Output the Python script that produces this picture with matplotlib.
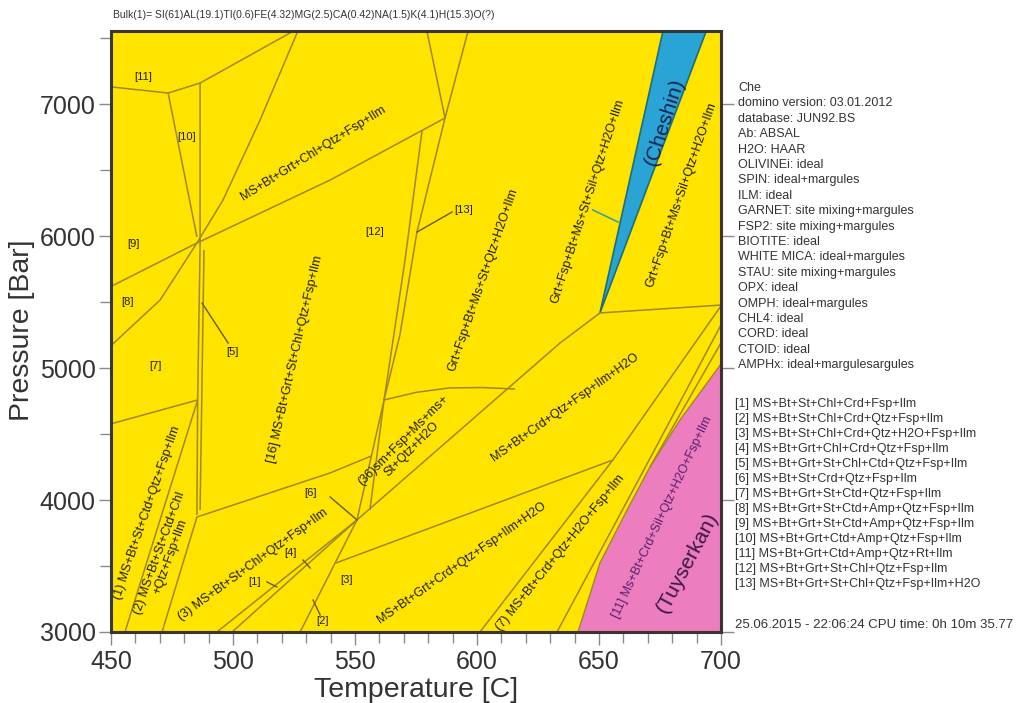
import matplotlib
matplotlib.use('Agg')
import matplotlib.pyplot as plt
from matplotlib.patches import Polygon
from matplotlib.ticker import MultipleLocator, FixedLocator

plt.rcParams['font.family'] = ['Liberation Sans', 'DejaVu Sans']

# ---------------- data ----------------
t_lim = (450, 700)
p_lim = (3000, 7550)
x_ticks = [450, 500, 550, 600, 650, 700]
y_ticks = [3000, 4000, 5000, 6000, 7000]

# phase boundaries (Temperature [C], Pressure [Bar])
b01_T = [450.0, 473.4];                      b01_P = [7130, 7083]
b02_T = [473.4, 486.5, 524.5];               b02_P = [7083, 7159, 7550]
b03_T = [473.4, 485.2];                      b03_P = [7083, 5993]
b04_T = [486.5, 486.5, 485.5, 485.2];        b04_P = [7159, 5932, 4758, 3886]
b05_T = [488.1, 486.5];                      b05_P = [5894, 3924]
b06_T = [450.0, 470.1, 485.2, 495.9, 511.1, 526.5]; b06_P = [5170, 5515, 5947, 6273, 6879, 7550]
b07_T = [450.0, 485.2, 539.8, 586.9];        b07_P = [5618, 5947, 6424, 6894]
b08_T = [450.0, 485.5];                      b08_P = [4577, 4758]
b09_T = [485.5, 455.7];                      b09_P = [4758, 3000]
b10_T = [485.2, 470.9];                      b10_P = [3871, 3000]
b11_T = [485.2, 539.8, 556.6];               b11_P = [3871, 4205, 4333]
b12_T = [586.9, 575.4, 568.4, 561.9, 550.8, 527.5]; b12_P = [6894, 6030, 5250, 4758, 3849, 3000]
b13_T = [577.5, 570.5, 565.6, 561.9, 556.1]; b13_P = [6800, 5818, 5212, 4758, 3924]
b14_T = [579.5, 586.9];                      b14_P = [7550, 6894]
b15_T = [596.3, 586.9];                      b15_P = [7550, 6894]
b16_T = [561.9, 575.0, 588.5, 602.0, 615.6]; b16_P = [4758, 4815, 4849, 4852, 4841]
b17_T = [493.4, 550.8, 634.0, 650.4];        b17_P = [3000, 3849, 5189, 5417]
b18_T = [499.6, 550.8];                      b18_P = [3000, 3849]
b19_T = [542.2, 655.7];                      b19_P = [3523, 4303]
b20_T = [650.4, 700.0];                      b20_P = [5417, 5477]
b21_T = [700.0, 655.7, 601.2];               b21_P = [5470, 4303, 3000]
b22_T = [700.0, 672.1, 632.8];               b22_P = [5326, 4356, 3000]
b23_T = [700.0, 670.9];                      b23_P = [5190, 4250]

# highlighted fields
tuyserkan_T = [641.4, 650.4, 661.5, 670.9, 683.2, 700.0, 700.0]
tuyserkan_P = [3000, 3523, 3924, 4250, 4606, 5030, 3000]
cheshin_T = [676.2, 693.9, 650.4]
cheshin_P = [7550, 7550, 5417]

# label pointer segments
ptr5_T = [487.3, 498.0];   ptr5_P = [5492, 5189]
ptr13_T = [575.4, 589.8];  ptr13_P = [6030, 6182]
ptr6_T = [539.8, 550.8];   ptr6_P = [4023, 3849]
ptr4_T = [528.7, 531.6];   ptr4_P = [3545, 3485]
ptr1_T = [513.9, 518.0];   ptr1_P = [3379, 3341]
ptr2_T = [532.8, 535.7];   ptr2_P = [3242, 3129]
ptrC_T = [647.5, 657.8];   ptrC_P = [6197, 6106]

bulk_title = "Bulk(1)= SI(61)AL(19.1)TI(0.6)FE(4.32)MG(2.5)CA(0.42)NA(1.5)K(4.1)H(15.3)O(?)"
info_lines = ["Che", "domino version: 03.01.2012", "database: JUN92.BS", "Ab: ABSAL",
              "H2O: HAAR", "OLIVINEi: ideal", "SPIN: ideal+margules", "ILM: ideal",
              "GARNET: site mixing+margules", "FSP2: site mixing+margules", "BIOTITE: ideal",
              "WHITE MICA: ideal+margules", "STAU: site mixing+margules", "OPX: ideal",
              "OMPH: ideal+margules", "CHL4: ideal", "CORD: ideal", "CTOID: ideal",
              "AMPHx: ideal+margulesargules"]
legend_lines = ["[1] MS+Bt+St+Chl+Crd+Fsp+Ilm", "[2] MS+Bt+St+Chl+Crd+Qtz+Fsp+Ilm",
                "[3] MS+Bt+St+Chl+Crd+Qtz+H2O+Fsp+Ilm", "[4] MS+Bt+Grt+Chl+Crd+Qtz+Fsp+Ilm",
                "[5] MS+Bt+Grt+St+Chl+Ctd+Qtz+Fsp+Ilm", "[6] MS+Bt+St+Crd+Qtz+Fsp+Ilm",
                "[7] MS+Bt+Grt+St+Ctd+Qtz+Fsp+Ilm", "[8] MS+Bt+Grt+St+Ctd+Amp+Qtz+Fsp+Ilm",
                "[9] MS+Bt+Grt+St+Ctd+Amp+Qtz+Fsp+Ilm", "[10] MS+Bt+Grt+Ctd+Amp+Qtz+Fsp+Ilm",
                "[11] MS+Bt+Grt+Ctd+Amp+Qtz+Rt+Ilm", "[12] MS+Bt+Grt+St+Chl+Qtz+Fsp+Ilm",
                "[13] MS+Bt+Grt+St+Chl+Qtz+Fsp+Ilm+H2O"]
footer = "25.06.2015 - 22:06:24 CPU time: 0h 10m 35.77"

# ---------------- drawing ----------------
YEL = '#FFE400'
LINE = '#A08729'
TXT = '#1f1f1a'

fig = plt.figure(figsize=(10.16, 7.03), dpi=100)
ax = fig.add_axes([0.1093, 0.1010, 0.6003, 0.8543])
ax.set_facecolor(YEL)
ax.set_xlim(*t_lim)
ax.set_ylim(*p_lim)

ax.add_patch(Polygon(list(zip(tuyserkan_T, tuyserkan_P)), closed=True,
                     facecolor='#EC7DBE', edgecolor=LINE, lw=1.0, zorder=1))
ax.add_patch(Polygon(list(zip(cheshin_T, cheshin_P)), closed=True,
                     facecolor='#2AA4D5', edgecolor='#1f6d7a', lw=1.2, zorder=1))

bounds = [(b01_T, b01_P), (b02_T, b02_P), (b03_T, b03_P), (b04_T, b04_P), (b05_T, b05_P),
          (b06_T, b06_P), (b07_T, b07_P), (b08_T, b08_P), (b09_T, b09_P), (b10_T, b10_P),
          (b11_T, b11_P), (b12_T, b12_P), (b13_T, b13_P), (b14_T, b14_P), (b15_T, b15_P),
          (b16_T, b16_P), (b17_T, b17_P), (b18_T, b18_P), (b19_T, b19_P), (b20_T, b20_P),
          (b21_T, b21_P), (b22_T, b22_P), (b23_T, b23_P)]
for tt, pp in bounds:
    ax.plot(tt, pp, color=LINE, lw=1.1, zorder=2, solid_capstyle='butt')

for tt, pp in [(ptr5_T, ptr5_P), (ptr13_T, ptr13_P), (ptr6_T, ptr6_P), (ptr4_T, ptr4_P),
               (ptr1_T, ptr1_P), (ptr2_T, ptr2_P)]:
    ax.plot(tt, pp, color='#6b5a20', lw=1.0, zorder=2)
ax.plot(ptrC_T, ptrC_P, color='#3aa39a', lw=1.2, zorder=2)

# small field numbers
small = [("[11]", 463.1, 7205), ("[10]", 481.1, 6750), ("[9]", 459.0, 5939), ("[8]", 456.6, 5500),
         ("[7]", 468.0, 5015), ("[5]", 499.6, 5121), ("[12]", 558.2, 6030), ("[13]", 594.5, 6197),
         ("[6]", 531.6, 4053), ("[4]", 523.4, 3598), ("[1]", 509.0, 3379), ("[3]", 546.7, 3394),
         ("[2]", 536.5, 3083)]
for s, tx, py in small:
    ax.text(tx, py, s, fontsize=8, color=TXT, ha='center', va='center', zorder=3)

rot = [("MS+Bt+Grt+Chl+Qtz+Fsp+Ilm", 532.8, 6629, 32, 9, TXT),
       ("[16] MS+Bt+Grt+St+Chl+Qtz+Fsp+Ilm", 525.4, 5068, 77, 9, TXT),
       ("Grt+Fsp+Bt+Ms+St+Qtz+H2O+Ilm", 602.5, 5667, 71, 9, TXT),
       ("Grt+Fsp+Bt+Ms+St+Sil+Qtz+H2O+Ilm", 645.5, 6265, 72, 9, TXT),
       ("Grt+Fsp+Bt+Ms+Sil+Qtz+H2O+Ilm", 684.0, 6311, 71, 9, TXT),
       ("(36)sm+Fsp+Ms+ms+\nSt+Qtz+H2O", 571.5, 4420, 45, 9, TXT),
       ("MS+Bt+Crd+Qtz+Fsp+Ilm+H2O", 636.1, 4705, 35.5, 9, TXT),
       ("MS+Bt+Grt+Crd+Qtz+Fsp+Ilm+H2O", 593.9, 3523, 35, 9, TXT),
       ("(7) MS+Bt+Crd+Qtz+H2O+Fsp+Ilm", 634.0, 3598, 51, 9, TXT),
       ("(3) MS+Bt+St+Chl+Qtz+Fsp+Ilm", 508.2, 3508, 36, 9, TXT),
       ("(1) MS+Bt+St+Ctd+Qtz+Fsp+Ilm", 464.8, 3902, 71, 9, TXT),
       ("(2) MS+Bt+St+Ctd+Chl\n+Qtz+Fsp+Ilm", 472.1, 3583, 70, 9, TXT),
       ("[11] Ms+Bt+Crd+Sil+Qtz+H2O+Fsp+Ilm", 675.8, 3871, 65, 9, '#5b2070'),
       ("(Cheshin)", 677.0, 6864, 72, 15, '#16244f'),
       ("(Tuyserkan)", 686.1, 3523, 62, 15, '#3b1546')]
for s, tx, py, r, fs, c in rot:
    ax.text(tx, py, s, rotation=r, rotation_mode='anchor', ha='center', va='center',
            fontsize=fs, color=c, zorder=3, linespacing=1.0)

# axes styling
for sp in ax.spines.values():
    sp.set_linewidth(2.2)
    sp.set_color('#3a3530')
    sp.set_zorder(5)
ax.xaxis.set_major_locator(FixedLocator(x_ticks))
ax.yaxis.set_major_locator(FixedLocator(y_ticks))
ax.xaxis.set_minor_locator(MultipleLocator(10))
ax.yaxis.set_minor_locator(MultipleLocator(500))
ax.tick_params(axis='both', which='major', direction='out', length=9, width=1.0,
               color='#8a8a8a', labelsize=18, labelcolor='#333333')
ax.tick_params(axis='x', which='major', pad=4)
ax.tick_params(axis='y', which='major', pad=2)
ax.tick_params(axis='both', which='minor', direction='out', length=8, width=1.0, color='#8a8a8a')
ax.tick_params(axis='y', which='major', right=True)
ax.tick_params(axis='y', which='minor', right=False)
ax.set_xlabel("Temperature [C]", fontsize=20.5, color='#333333', labelpad=2)

fig.text(22 / 1016, 1 - 330 / 703, "Pressure [Bar]", rotation=90, fontsize=20.5,
         color='#333333', ha='center', va='center')

fig.text(0.111, 0.9787, bulk_title, fontsize=7.5, color='#333333', ha='left', va='center')

y0 = 1 - 88 / 703
for i, s in enumerate(info_lines):
    fig.text(0.7264, y0 - i * 15.4 / 703, s, fontsize=9, color='#333333', ha='left', va='center')

y1 = 1 - 404 / 703
for i, s in enumerate(legend_lines):
    fig.text(0.7234, y1 - i * 15.0 / 703, s, fontsize=9, color='#333333', ha='left', va='center')

fig.text(0.7234, 1 - 625 / 703, footer, fontsize=9.5, color='#333333', ha='left', va='center')

fig.savefig('out.png', dpi=100)
